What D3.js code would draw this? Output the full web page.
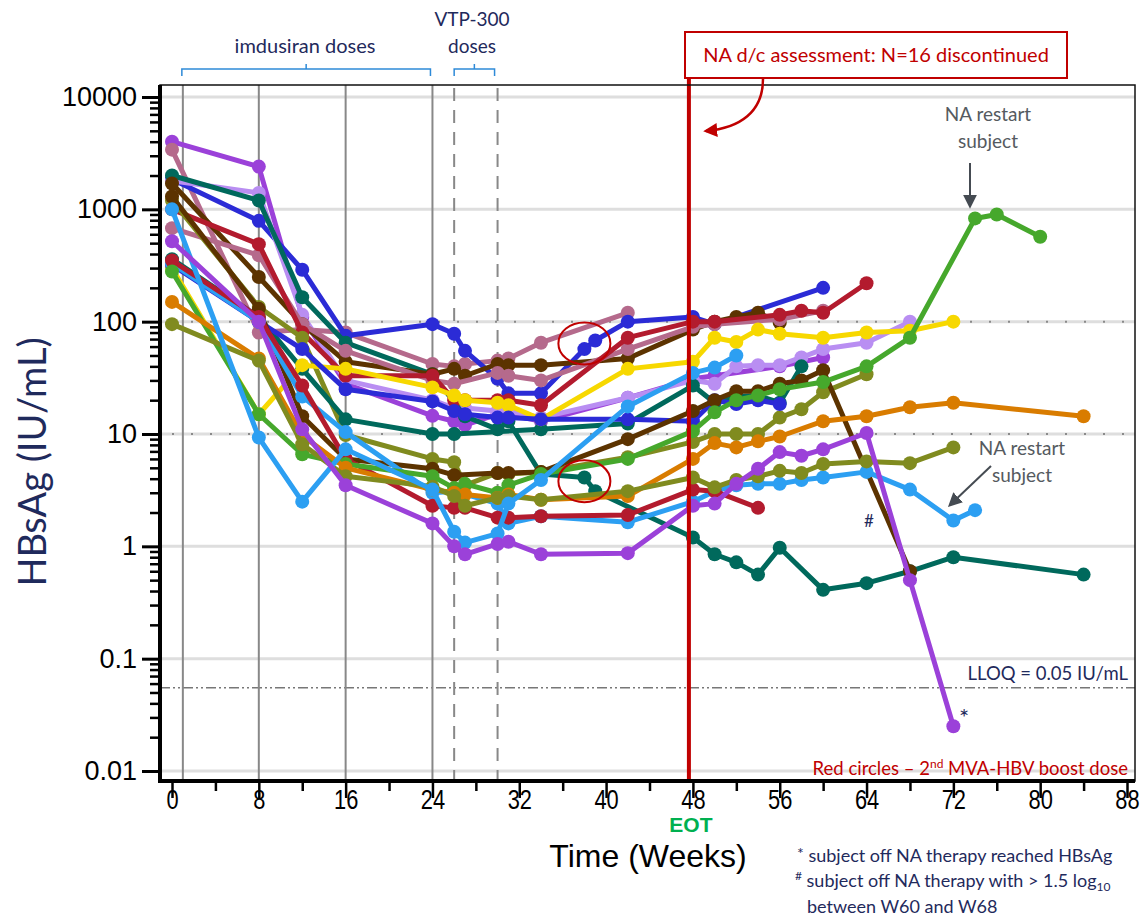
<!DOCTYPE html>
<html>
<head>
<meta charset="utf-8">
<script src="https://cdn.jsdelivr.net/npm/d3@7"></script>
<style>
  body { margin: 0; background: #fff; }
  svg { display: block; font-family: "Liberation Sans", Arial, sans-serif; }
</style>
</head>
<body>
<script>
// ---- data: [week, HBsAg IU/mL] per subject ----
var purple1 = [[0,4000],[8,2400],[12,110],[16,28],[24,14.5],[26,13],[27,12],[30,15],[31,15],[34,13],[42,21],[48,31],[50,33],[56,40],[60,48]];
var purple2 = [[0,520],[8,100],[12,11],[16,3.5],[24,1.6],[26,1.0],[27,0.85],[30,1.05],[31,1.1],[34,0.85],[42,0.87],[48,2.3],[50,2.4],[52,3.6],[54,4.9],[56,6.9],[58,6.4],[60,7.3],[64,10.2],[68,0.5],[72,0.025]];
var mauve1  = [[0,3400],[8,80],[12,85],[16,80],[24,42],[26,40],[27,42],[30,45],[31,47],[34,65],[42,120]];
var mauve2  = [[0,680],[8,390],[12,95],[16,55],[24,30],[26,28],[30,35],[31,33],[34,30],[42,57],[48,90],[50,95],[56,105],[60,125]];
var blue1   = [[0,1850],[8,790],[12,290],[16,75],[24,95],[26,78],[27,55],[30,31],[31,23],[34,23],[38,57],[39,68],[42,100],[48,110],[50,95],[60,200]];
var blue2   = [[0,320],[8,100],[12,57],[16,25],[24,19.5],[26,16],[27,15],[30,14],[31,14],[34,13.5],[42,13.5],[48,13],[50,20],[52,18.5],[54,20],[56,18.5]];
var lavender = [[0,1800],[8,1400],[12,115],[16,30],[24,20],[26,17],[27,17],[30,16],[31,16],[34,14],[42,21],[48,30],[50,28],[52,40],[54,41],[56,41],[58,48],[60,57],[64,65],[68,100]];
var teal1   = [[0,2000],[8,1200],[12,165],[16,65],[24,34],[27,14.4],[30,11],[31,13],[34,4.4],[38,4.1],[39,3.1],[48,1.2],[50,0.85],[52,0.72],[54,0.56],[56,0.97],[60,0.41],[64,0.47],[68,0.6],[72,0.8],[84,0.56]];
var teal2   = [[0,360],[8,110],[12,38],[16,13.5],[24,10],[26,10],[34,11],[42,12.4],[48,27],[50,19],[52,21.6],[54,22],[56,19],[58,40]];
var brown1  = [[0,1700],[8,250],[12,95],[16,44],[24,34],[26,38],[27,33],[30,42],[31,41],[34,41],[42,47],[48,85],[50,100],[52,110],[54,120],[56,98]];
var brown2  = [[0,1300],[8,130],[12,14.4],[16,6],[24,4.9],[26,4.3],[30,4.5],[31,4.5],[34,4.6],[42,9],[48,16],[50,20],[52,24],[54,24],[56,28],[58,30],[60,37],[68,0.6]];
var yellow  = [[0,300],[8,15],[12,41],[16,38],[24,26],[26,22],[27,20],[30,19],[31,18],[34,13.5],[42,38],[48,44],[50,72],[52,66],[54,85],[56,78],[60,72],[64,80],[68,83],[72,100]];
var ltblue1 = [[0,1000],[8,9.3],[12,2.5],[16,7.3],[24,3.2],[26,1.35],[27,1.08],[30,1.3],[31,2.4],[34,3.9],[42,17.6],[48,35],[50,39],[52,50]];
var ltblue2 = [[0,330],[8,100],[12,21.6],[16,10.4],[24,3.0],[26,3.1],[30,2.4],[31,1.6],[34,1.85],[42,1.64],[48,2.5],[50,3.1],[52,3.5],[54,3.6],[56,3.6],[58,3.9],[60,4.1],[64,4.6],[68,3.2],[72,1.7],[74,2.1]];
var olive1  = [[0,1200],[8,135],[12,72],[16,9.8],[24,6],[26,5.6],[27,3.5],[30,4.5],[31,4.4],[34,4.6],[42,6.2],[48,8.5],[50,10],[52,10],[54,10],[56,14],[58,16.6],[60,23.5],[64,34]];
var olive2  = [[0,95],[8,45],[12,8.1],[16,4.2],[24,3.4],[26,2.8],[27,2.3],[30,2.7],[31,2.8],[34,2.6],[42,3.1],[48,4.1],[50,3.35],[52,3.9],[54,4.2],[56,4.7],[58,4.5],[60,5.4],[64,5.7],[68,5.5],[72,7.6]];
var green1  = [[0,280],[8,15],[12,6.6],[16,5.4],[24,4.2],[26,3.3],[27,3.6],[30,3.0],[31,3.5],[34,4.4],[42,6],[48,10.6],[50,15.6],[52,20],[54,22],[56,25],[60,29],[64,40],[68,72],[74,830],[76,900],[80,570]];
var orange  = [[0,150],[8,47],[12,9.7],[16,5],[24,3.2],[26,3.0],[27,2.9],[30,2.7],[31,2.9],[34,2.6],[42,2.8],[48,6],[50,8.3],[52,7.6],[54,8.6],[56,9.5],[60,13],[64,14.4],[68,17.3],[72,19],[84,14.4]];
var red1    = [[0,1000],[8,490],[12,80],[16,33],[24,33],[26,20],[27,20],[30,20],[31,20],[34,18],[42,72],[48,100],[50,100],[56,115],[58,125],[60,120],[64,220]];
var red2    = [[0,350],[8,110],[12,27],[16,6],[24,2.3],[26,2.2],[27,2.2],[30,1.8],[31,1.8],[34,1.85],[42,1.9],[48,3.2],[50,3.1],[54,2.2]];

var subjects = [purple1, mauve1, blue1, lavender, teal1, brown1, mauve2, red1, olive1, teal2, yellow,
                blue2, brown2, ltblue2, red2, green1, orange, olive2, ltblue1, purple2];
var subjectColors = ["#9b41d9", "#b56a8c", "#2b2bd6", "#b98ef2", "#00695c", "#5c3300", "#b56a8c", "#b31b2e", "#808b1f", "#00695c", "#f7d800",
                     "#2b2bd6", "#5c3300", "#2c9ff2", "#b31b2e", "#46a82c", "#d97c00", "#808b1f", "#2c9ff2", "#9b41d9"];

var xTicks = d3.range(0, 89, 8);
var xMinor = d3.range(4, 89, 8);
var yTicks = [0.01, 0.1, 1, 10, 100, 1000, 10000];
var imdusiranWeeks = [1, 8, 16, 24];
var vtpWeeks = [26, 30];
var eotWeek = 48;
var lloq = 0.055;
var boostCircles = [[38, 64], [38, 3.8]];

// ---- layout ----
var W = 1140, H = 917;
var box = {left: 160, right: 1135, top: 85, bottom: 781};
var navy = "#1f2a5c", darkRed = "#c00000";
var calibri = "Lato, 'Open Sans', sans-serif";

var svg = d3.select("body").append("svg").attr("width", W).attr("height", H);

var x = d3.scaleLinear().domain([0, 88]).range([172, 1127]);
var y = d3.scaleLog().domain([0.01, 10000]).range([771, 97]);

var defs = svg.append("defs");
function arrowMarker(id, color) {
  defs.append("marker").attr("id", id)
    .attr("viewBox", "0 0 10 10").attr("refX", 8).attr("refY", 5)
    .attr("markerWidth", 14).attr("markerHeight", 14)
    .attr("markerUnits", "userSpaceOnUse").attr("orient", "auto")
    .append("path").attr("d", "M0,0 L10,5 L0,10 z").attr("fill", color);
}
arrowMarker("arrowRed", darkRed);
arrowMarker("arrowGray", "#454b52");

// gridlines
svg.append("g").selectAll("line")
  .data(yTicks).enter().append("line")
  .attr("x1", box.left).attr("x2", box.right)
  .attr("y1", function(d) { return y(d); }).attr("y2", function(d) { return y(d); })
  .attr("stroke", "#dedede").attr("stroke-width", 3);
svg.append("g").selectAll("line")
  .data([10, 100]).enter().append("line")
  .attr("x1", box.left + 12).attr("x2", box.right)
  .attr("y1", function(d) { return y(d); }).attr("y2", function(d) { return y(d); })
  .attr("stroke", "#8a8a8a").attr("stroke-width", 2).attr("stroke-dasharray", "2,17");

// LLOQ
svg.append("line")
  .attr("x1", box.left).attr("x2", box.right).attr("y1", y(lloq)).attr("y2", y(lloq))
  .attr("stroke", "#777").attr("stroke-width", 1.5).attr("stroke-dasharray", "10,3,2,3,2,3");

// dosing lines
svg.append("g").selectAll("line")
  .data(imdusiranWeeks).enter().append("line")
  .attr("x1", function(d) { return x(d); }).attr("x2", function(d) { return x(d); })
  .attr("y1", box.top).attr("y2", box.bottom)
  .attr("stroke", "#888").attr("stroke-width", 2);
svg.append("g").selectAll("line")
  .data(vtpWeeks).enter().append("line")
  .attr("x1", function(d) { return x(d); }).attr("x2", function(d) { return x(d); })
  .attr("y1", box.top + 3).attr("y2", box.bottom)
  .attr("stroke", "#888").attr("stroke-width", 2).attr("stroke-dasharray", "13,9");

// subjects
var line = d3.line().x(function(d) { return x(d[0]); }).y(function(d) { return y(d[1]); });
subjects.forEach(function(s, i) {
  var g = svg.append("g");
  g.append("path").datum(s).attr("d", line)
    .attr("fill", "none").attr("stroke", subjectColors[i]).attr("stroke-width", 5)
    .attr("stroke-linejoin", "round");
  g.selectAll("circle").data(s).enter().append("circle")
    .attr("cx", function(d) { return x(d[0]); }).attr("cy", function(d) { return y(d[1]); })
    .attr("r", 7).attr("fill", subjectColors[i]);
});

// EOT line
svg.append("line")
  .attr("x1", x(eotWeek) - 4).attr("x2", x(eotWeek) - 4).attr("y1", 78).attr("y2", box.bottom - 2)
  .attr("stroke", darkRed).attr("stroke-width", 4);

// red circles for boost dose
svg.append("g").selectAll("ellipse")
  .data(boostCircles).enter().append("ellipse")
  .attr("cx", function(d) { return x(d[0]); }).attr("cy", function(d) { return y(d[1]); })
  .attr("rx", 26).attr("ry", 21)
  .attr("fill", "none").attr("stroke", darkRed).attr("stroke-width", 2);

// frame
svg.append("rect").attr("x", box.left).attr("y", box.top)
  .attr("width", box.right - box.left).attr("height", box.bottom - box.top)
  .attr("fill", "none").attr("stroke", "#111").attr("stroke-width", 1.5);
svg.append("line").attr("x1", box.left).attr("x2", box.left).attr("y1", box.top).attr("y2", box.bottom + 2)
  .attr("stroke", "#000").attr("stroke-width", 4);
svg.append("line").attr("x1", box.left - 2).attr("x2", box.right).attr("y1", box.bottom).attr("y2", box.bottom)
  .attr("stroke", "#000").attr("stroke-width", 4);

// x axis (condensed labels)
var xAxis = svg.append("g").attr("transform", "translate(0," + (box.bottom + 1) + ")")
  .call(d3.axisBottom(x).tickValues(xTicks).tickSize(16).tickFormat(d3.format("d")));
xAxis.select(".domain").remove();
xAxis.selectAll("line").attr("stroke", "#000").attr("stroke-width", 2.5);
xAxis.selectAll("text").attr("dy", null).attr("y", 27)
  .attr("transform", "scale(0.78,1)")
  .style("font-size", "28px").attr("fill", "#000");
var xAxisMinor = svg.append("g").attr("transform", "translate(0," + (box.bottom + 1) + ")")
  .call(d3.axisBottom(x).tickValues(xMinor).tickSize(9).tickFormat(""));
xAxisMinor.select(".domain").remove();
xAxisMinor.selectAll("line").attr("stroke", "#000").attr("stroke-width", 2.5);

// y axis
var yMinor = [];
[0.01, 0.1, 1, 10, 100, 1000].forEach(function(d) {
  for (var k = 2; k <= 9; k++) yMinor.push(d * k);
});
var yAxis = svg.append("g").attr("transform", "translate(" + (box.left - 1) + ",0)")
  .call(d3.axisLeft(y).tickValues(yTicks).tickSize(17).tickPadding(5)
    .tickFormat(function(d) { return d < 1 ? String(d) : d3.format("d")(d); }));
yAxis.select(".domain").remove();
yAxis.selectAll("line").attr("stroke", "#000").attr("stroke-width", 3);
yAxis.selectAll("text").style("font-size", "27px").attr("fill", "#000");
var yAxisMinor = svg.append("g").attr("transform", "translate(" + (box.left - 1) + ",0)")
  .call(d3.axisLeft(y).tickValues(yMinor).tickSize(9).tickFormat(""));
yAxisMinor.select(".domain").remove();
yAxisMinor.selectAll("line").attr("stroke", "#000").attr("stroke-width", 2.5);

// axis titles
svg.append("text")
  .attr("transform", "translate(46,462) rotate(-90)")
  .attr("text-anchor", "middle")
  .style("font-family", calibri).style("font-size", "38px")
  .attr("fill", navy).text("HBsAg (IU/mL)");
svg.append("text").attr("x", 648).attr("y", 867).attr("text-anchor", "middle")
  .style("font-size", "32px").attr("fill", "#000").text("Time (Weeks)");
svg.append("text").attr("x", x(eotWeek) - 2).attr("y", 832).attr("text-anchor", "middle")
  .style("font-size", "21px").style("font-weight", "bold")
  .attr("fill", "#00b050").text("EOT");

// top annotations
function note(tx, ty, txt, color, size, anchor) {
  return svg.append("text").attr("x", tx).attr("y", ty)
    .attr("text-anchor", anchor || "middle")
    .style("font-family", calibri).style("font-size", (size || 19) + "px")
    .attr("fill", color).text(txt);
}
note(305, 53, "imdusiran doses", navy, 20);
note(472, 26, "VTP-300", navy, 19);
note(472, 53, "doses", navy, 19);

function bracket(x1, x2, yb) {
  var mid = (x1 + x2) / 2;
  svg.append("path")
    .attr("d", "M" + x1 + "," + (yb + 7) + " V" + yb + " H" + x2 + " V" + (yb + 7) + " M" + mid + "," + yb + " V" + (yb - 5))
    .attr("fill", "none").attr("stroke", "#2e8ad8").attr("stroke-width", 1.5);
}
bracket(x(1) - 1, x(24) - 2, 69);
bracket(x(26), x(30) - 3, 69);

svg.append("rect").attr("x", 685).attr("y", 32).attr("width", 382).attr("height", 46)
  .attr("fill", "#fff").attr("stroke", darkRed).attr("stroke-width", 2);
note(876, 62, "NA d/c assessment: N=16 discontinued", darkRed, 20);
svg.append("path").attr("d", "M763,79 C763,112 740,128 706,131")
  .attr("fill", "none").attr("stroke", darkRed).attr("stroke-width", 2.5)
  .attr("marker-end", "url(#arrowRed)");

note(988, 121, "NA restart", "#555a60", 19);
note(988, 148, "subject", "#555a60", 19);
svg.append("line").attr("x1", 970).attr("y1", 163).attr("x2", 970).attr("y2", 206)
  .attr("stroke", "#454b52").attr("stroke-width", 2).attr("marker-end", "url(#arrowGray)");

note(1022, 455, "NA restart", "#555a60", 19);
note(1022, 482, "subject", "#555a60", 19);
svg.append("line").attr("x1", 991).attr("y1", 466).attr("x2", 950).attr("y2", 505)
  .attr("stroke", "#454b52").attr("stroke-width", 2).attr("marker-end", "url(#arrowGray)");

note(869, 527, "#", navy, 17);
note(964, 726, "*", navy, 24);

note(1128, 680, "LLOQ = 0.05 IU/mL", navy, 18.5, "end");
var rc = note(1128, 775, "Red circles \u2013 2", darkRed, 18.5, "end");
rc.append("tspan").attr("dy", -7).style("font-size", "12px").text("nd");
rc.append("tspan").attr("dy", 7).text(" MVA-HBV boost dose");

// footnotes (the right end runs off the page, as in the source slide)
var f1 = svg.append("text").attr("x", 797).attr("y", 862)
  .style("font-family", calibri).style("font-size", "18px").attr("fill", navy);
f1.append("tspan").attr("dy", -3).style("font-size", "16px").text("*");
f1.append("tspan").attr("dy", 3).text(" subject off NA therapy reached HBsAg");
var f2 = svg.append("text").attr("x", 795).attr("y", 887)
  .style("font-family", calibri).style("font-size", "18px").attr("fill", navy);
f2.append("tspan").attr("dy", -7).style("font-size", "12px").text("#");
f2.append("tspan").attr("dy", 7).text(" subject off NA therapy with > 1.5 log");
f2.append("tspan").attr("dy", 4).style("font-size", "12px").text("10");
svg.append("text").attr("x", 807).attr("y", 913)
  .style("font-family", calibri).style("font-size", "18px").attr("fill", navy)
  .text("between W60 and W68");
</script>
</body>
</html>
